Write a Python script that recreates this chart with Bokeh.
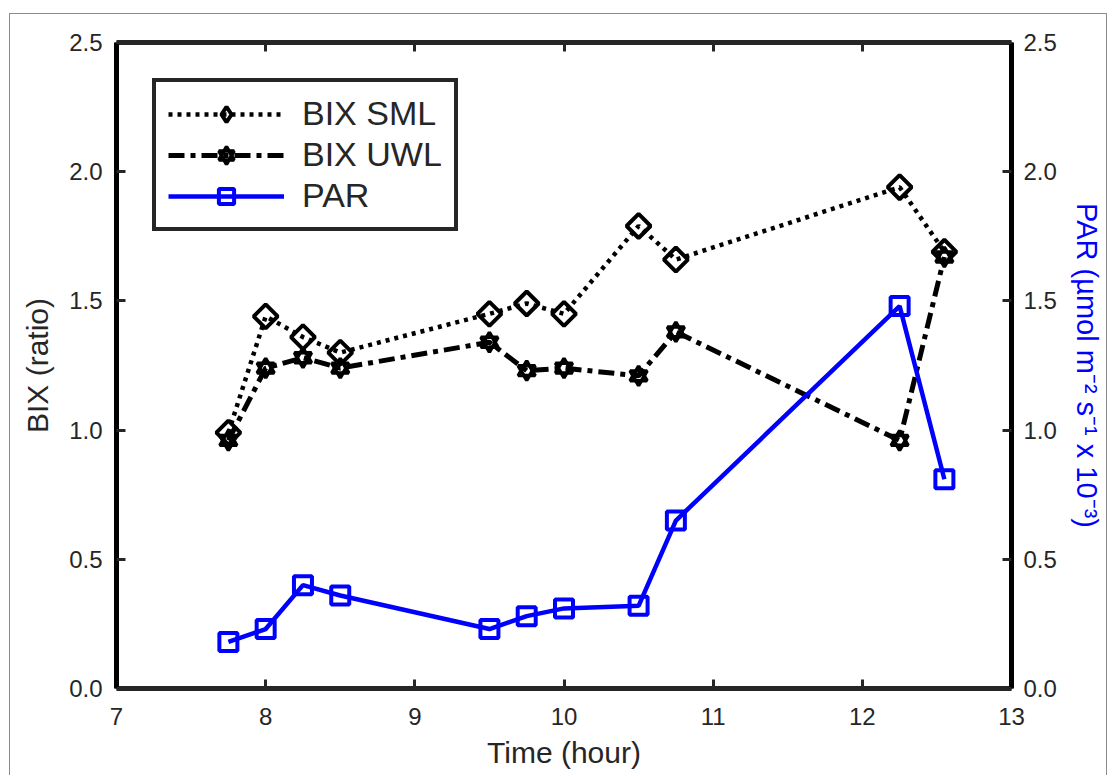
import math

from bokeh.embed import file_html
from bokeh.models import (CustomJSTickFormatter, FixedTicker, Legend,
                          LegendItem, LinearAxis, NumeralTickFormatter,
                          Range1d)
from bokeh.plotting import figure
from bokeh.resources import INLINE

# Sampling times (hour of day)
time_h = [7.75, 8.0, 8.25, 8.5, 9.5, 9.75, 10.0, 10.5, 10.75, 12.25, 12.55]
# Biological index in the surface microlayer and underlying water
bix_sml = [0.99, 1.44, 1.36, 1.30, 1.45, 1.49, 1.45, 1.79, 1.66, 1.94, 1.69]
bix_uwl = [0.96, 1.24, 1.28, 1.24, 1.34, 1.23, 1.24, 1.21, 1.38, 0.96, 1.67]
# Photosynthetically active radiation (x 10^3 umol m-2 s-1)
par = [0.18, 0.23, 0.40, 0.36, 0.23, 0.28, 0.31, 0.32, 0.65, 1.48, 0.81]

x_ticks = [7, 8, 9, 10, 11, 12, 13]
y_ticks = [0.0, 0.5, 1.0, 1.5, 2.0, 2.5]

FONT = "Liberation Sans"
INK = "#262626"

p = figure(width=1098, height=762,
           x_range=Range1d(7, 13), y_range=Range1d(0, 2.5),
           output_backend="svg", toolbar_location=None,
           min_border_left=106, min_border_right=97,
           min_border_top=28, min_border_bottom=88,
           margin=(13, 0, 0, 9))
p.styles = {"border-top": "1px solid #8c8c8c",
            "border-left": "1px solid #8c8c8c",
            "border-right": "1px solid #8c8c8c"}
p.extra_y_ranges = {"par": Range1d(0, 2.5)}
p.xgrid.visible = False
p.ygrid.visible = False
p.outline_line_color = None
p.background_fill_color = "white"
p.border_fill_color = "white"

bottom_axis = p.below[0]
left_axis = p.left[0]
top_axis = LinearAxis()
right_axis = LinearAxis(y_range_name="par")
p.add_layout(top_axis, "above")
p.add_layout(right_axis, "right")

for ax in [bottom_axis, top_axis]:
    ax.ticker = FixedTicker(ticks=x_ticks)
    ax.axis_line_color = INK
for ax in [left_axis, right_axis]:
    ax.ticker = FixedTicker(ticks=y_ticks)
    ax.formatter = NumeralTickFormatter(format="0.0")
    ax.axis_line_color = "black"

for ax in [bottom_axis, left_axis, top_axis, right_axis]:
    ax.axis_line_width = 5
    ax.major_tick_in = 9
    ax.major_tick_out = 0
    ax.major_tick_line_width = 3
    ax.major_tick_line_color = INK
    ax.minor_tick_line_color = None
    ax.major_label_text_font = FONT
    ax.major_label_text_font_size = "24px"
    ax.major_label_text_color = INK
    ax.major_label_standoff = 14
    ax.axis_label_text_font = FONT
    ax.axis_label_text_font_style = "normal"
    ax.axis_label_text_font_size = "30px"
    ax.axis_label_text_color = INK

# the top edge carries ticks only
top_axis.formatter = CustomJSTickFormatter(code="return ''")
top_axis.major_label_standoff = 0

bottom_axis.axis_label = "Time (hour)"
bottom_axis.major_label_standoff = 19
bottom_axis.axis_label_standoff = 8
left_axis.axis_label = "BIX (ratio)"
left_axis.axis_label_standoff = 12
right_axis.axis_label = "PAR (\u00b5mol m\u207b\u00b2 s\u207b\u00b9 x 10\u207b\u00b3)"
right_axis.axis_label_text_color = "#0000ff"
right_axis.axis_label_text_font_size = "29px"
right_axis.major_label_standoff = 12
right_axis.axis_label_standoff = 11

# BIX SML: dotted line with open diamonds
sml_line = p.line(time_h, bix_sml, line_color="black", line_width=4.5,
                  line_dash="4 5")
p.scatter(time_h, bix_sml, marker="square", angle=math.pi / 4, size=17,
          fill_color=None, line_color="black", line_width=4)
# legend key for the diamonds (no position on the plot)
sml_key = p.scatter(x=[float("nan")], y=[float("nan")], marker="diamond",
                    size=30, fill_color=None, line_color="black",
                    line_width=4)

# BIX UWL: dash-dot line with hexagram markers
uwl_line = p.line(time_h, bix_uwl, line_color="black", line_width=5,
                  line_dash="16 6 5 6")
uwl_up = p.scatter(time_h, bix_uwl, marker="triangle", size=17,
                   fill_color=None, line_color="black", line_width=3.5)
uwl_dn = p.scatter(time_h, bix_uwl, marker="inverted_triangle", size=17,
                   fill_color=None, line_color="black", line_width=3.5)

# PAR on the right-hand axis
par_line = p.line(time_h, par, line_color="#0000ff", line_width=4.5,
                  y_range_name="par")
par_mk = p.scatter(time_h, par, marker="square", size=18, fill_color=None,
                   line_color="#0000ff", line_width=4, y_range_name="par")

legend = Legend(items=[
    LegendItem(label="BIX SML", renderers=[sml_line, sml_key]),
    LegendItem(label="BIX UWL", renderers=[uwl_line, uwl_up, uwl_dn]),
    LegendItem(label="PAR", renderers=[par_line, par_mk]),
], location="top_left")
legend.margin = 36
legend.padding = 12
legend.spacing = 2
legend.glyph_width = 116
legend.glyph_height = 38
legend.label_standoff = 18
legend.label_text_font = FONT
legend.label_text_font_size = "34px"
legend.label_text_color = INK
legend.label_height = 38
legend.border_line_color = INK
legend.border_line_alpha = 1
legend.border_line_width = 4
legend.background_fill_color = "white"
legend.background_fill_alpha = 1
p.add_layout(legend)

open("out.html", "w").write(file_html(p, INLINE))
